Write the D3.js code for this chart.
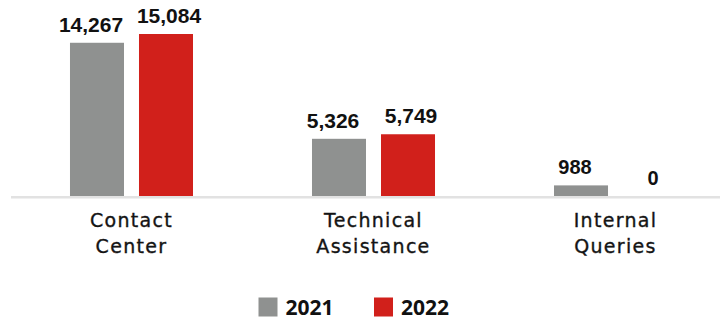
<!DOCTYPE html>
<html>
<head>
<meta charset="utf-8">
<script src="https://cdn.jsdelivr.net/npm/d3@7"></script>
<style>
  html, body { margin: 0; padding: 0; background: #ffffff; }
  svg { display: block; }
</style>
</head>
<body>
<svg id="chart" width="720" height="320"></svg>
<script>
// Categories (two-line labels) and yearly counts
const categories = ["Contact Center", "Technical Assistance", "Internal Queries"];
const categoryLines = [["Contact", "Center"], ["Technical", "Assistance"], ["Internal", "Queries"]];
const years = ["2021", "2022"];
const values2021 = [14267, 5326, 988];
const values2022 = [15084, 5749, 0];
const colors = ["#8f9190", "#d1201b"];

const svg = d3.select("#chart");
const W = 720, H = 320;
const baseY = 196;

const x0 = d3.scaleBand()
  .domain(categories)
  .range([10.5, 736.5])
  .paddingInner(0.4917)
  .paddingOuter(0.2458);

const x1 = d3.scaleBand()
  .domain(years)
  .range([0, x0.bandwidth()])
  .paddingInner(0.2174);

const y = d3.scaleLinear()
  .domain([0, d3.max(values2022)])
  .range([baseY, 34]);

const color = d3.scaleOrdinal().domain(years).range(colors);
// small horizontal nudge of value labels so neighbours don't collide
const labelNudge = d3.scaleOrdinal().domain(years).range([-6, 3]);

const rows = categories.map((c, i) => ({
  category: c,
  lines: categoryLines[i],
  vals: [
    { year: years[0], value: values2021[i] },
    { year: years[1], value: values2022[i] }
  ]
}));

// Baseline
svg.append("line")
  .attr("x1", 11).attr("x2", W)
  .attr("y1", baseY + 1.2).attr("y2", baseY + 1.2)
  .attr("stroke", "#e2e2e2")
  .attr("stroke-width", 2.5);

const fmt = d3.format(",");

const groups = svg.selectAll("g.cat")
  .data(rows)
  .join("g")
  .attr("class", "cat")
  .attr("transform", d => `translate(${x0(d.category)},0)`);

groups.selectAll("rect")
  .data(d => d.vals)
  .join("rect")
  .attr("x", d => x1(d.year))
  .attr("width", x1.bandwidth())
  .attr("y", d => y(d.value))
  .attr("height", d => baseY - y(d.value))
  .attr("fill", d => color(d.year));

groups.selectAll("text.val")
  .data(d => d.vals)
  .join("text")
  .attr("class", "val")
  .attr("x", d => x1(d.year) + x1.bandwidth() / 2 + labelNudge(d.year))
  .attr("y", d => y(d.value) - 11)
  .attr("text-anchor", "middle")
  .attr("font-family", "Liberation Sans, Arial, sans-serif")
  .attr("font-weight", "bold")
  .attr("font-size", d => d.value < 1000 ? 20 : 21)
  .attr("fill", "#111")
  .text(d => fmt(d.value));

// Category labels
groups.append("text")
  .attr("x", x0.bandwidth() / 2)
  .attr("y", 226.7)
  .attr("text-anchor", "middle")
  .attr("font-family", "DejaVu Sans, sans-serif")
  .attr("font-size", 19)
  .attr("letter-spacing", 1.3)
  .attr("fill", "#141414")
  .attr("stroke", "#141414")
  .attr("stroke-width", 0.35)
  .selectAll("tspan")
  .data(d => d.lines)
  .join("tspan")
  .attr("x", x0.bandwidth() / 2)
  .attr("dy", (d, i) => i === 0 ? 0 : 26.6)
  .text(d => d);

// Legend
const legendX = d3.scaleOrdinal().domain(years).range([258.5, 374]);
const legend = svg.selectAll("g.leg")
  .data(years)
  .join("g")
  .attr("class", "leg")
  .attr("transform", d => `translate(${legendX(d)},297.5)`);

legend.append("rect")
  .attr("width", 19).attr("height", 19)
  .attr("fill", d => color(d));

legend.append("text")
  .attr("x", 27)
  .attr("y", 17.5)
  .attr("font-family", "Open Sans, sans-serif")
  .attr("font-weight", "bold")
  .attr("font-size", 21)
  .attr("fill", "#111")
  .text(d => d);
</script>
</body>
</html>
